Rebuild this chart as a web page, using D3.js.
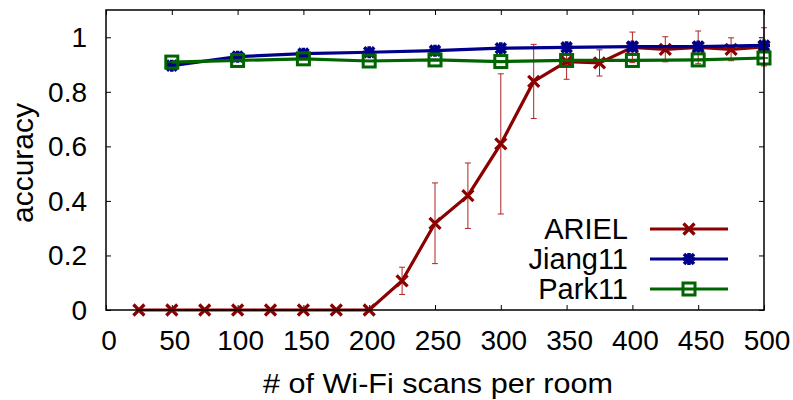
<!DOCTYPE html>
<html>
<head>
<meta charset="utf-8">
<script src="https://cdn.jsdelivr.net/npm/d3@7"></script>
<style>
  html, body { margin: 0; padding: 0; background: #fff; }
  svg text { font-family: "Liberation Sans", Arial, Helvetica, sans-serif; fill: #000; }
</style>
</head>
<body>
<svg id="chart" width="793" height="400"></svg>
<script>
// Accuracy vs. number of Wi-Fi scans per room
const arielX   = [25, 50, 75, 100, 125, 150, 175, 200, 225, 250, 275, 300, 325, 350, 375, 400, 425, 450, 475, 500];
const arielY   = [0, 0, 0, 0, 0, 0, 0, 0, 0.107, 0.318, 0.419, 0.609, 0.838, 0.911, 0.906, 0.963, 0.956, 0.963, 0.956, 0.965];
const arielErr = [0, 0, 0, 0, 0, 0, 0, 0, 0.05, 0.148, 0.12, 0.257, 0.136, 0.065, 0.048, 0.056, 0.046, 0.06, 0.042, 0.07];

const baseX    = [50, 100, 150, 200, 250, 300, 350, 400, 450, 500];
const jiangY   = [0.896, 0.929, 0.94, 0.945, 0.951, 0.96, 0.963, 0.966, 0.966, 0.97];
const parkY    = [0.909, 0.915, 0.921, 0.913, 0.917, 0.911, 0.915, 0.915, 0.917, 0.924];

const xTicks = [0, 50, 100, 150, 200, 250, 300, 350, 400, 450, 500];
const yTicks = [0, 0.2, 0.4, 0.6, 0.8, 1];
const yTickLabels = ["0", "0.2", "0.4", "0.6", "0.8", "1"];

const seriesNames = ["ARIEL", "Jiang11", "Park11"];
const colors = { ARIEL: "#8b0000", Jiang11: "#00008b", Park11: "#006400" };

const svg = d3.select("#chart");
const m = { left: 106, right: 29, top: 10, bottom: 90 };
const W = 793, H = 400;
const x = d3.scaleLinear().domain([0, 500]).range([m.left, W - m.right]);
const y = d3.scaleLinear().domain([0, 1.1]).range([H - m.bottom, m.top]);

const tickFont = 28;
const legendFont = 29;

// inward ticks on all four sides
const tickLen = 5;
const axes = svg.append("g");
axes.append("g").attr("transform", `translate(0,${y(0)})`)
  .call(d3.axisBottom(x).tickValues(xTicks).tickSizeInner(-tickLen).tickSizeOuter(0).tickFormat(""));
axes.append("g").attr("transform", `translate(0,${y(1.1)})`)
  .call(d3.axisTop(x).tickValues(xTicks).tickSizeInner(-tickLen).tickSizeOuter(0).tickFormat(""));
axes.append("g").attr("transform", `translate(${x(0)},0)`)
  .call(d3.axisLeft(y).tickValues(yTicks).tickSizeInner(-tickLen).tickSizeOuter(0).tickFormat(""));
axes.append("g").attr("transform", `translate(${x(500)},0)`)
  .call(d3.axisRight(y).tickValues(yTicks).tickSizeInner(-tickLen).tickSizeOuter(0).tickFormat(""));
axes.selectAll(".domain").remove();
axes.selectAll(".tick line").attr("stroke", "#000").attr("stroke-width", 1);

// tick labels
svg.append("g").selectAll("text").data(xTicks).join("text")
  .attr("x", d => x(d) + 3)
  .attr("y", 350)
  .attr("text-anchor", "middle")
  .attr("font-size", tickFont)
  .text(d => d);
svg.append("g").selectAll("text").data(yTicks).join("text")
  .attr("x", 87)
  .attr("y", d => y(d) + 10)
  .attr("text-anchor", "end")
  .attr("font-size", tickFont)
  .text((d, i) => yTickLabels[i]);

// axis titles
svg.append("text")
  .attr("x", 263).attr("y", 393)
  .attr("font-size", tickFont)
  .attr("textLength", 350)
  .attr("lengthAdjust", "spacingAndGlyphs")
  .text("# of Wi-Fi scans per room");
svg.append("text")
  .attr("transform", `translate(33,223) rotate(-90)`)
  .attr("font-size", 30)
  .attr("textLength", 120)
  .attr("lengthAdjust", "spacingAndGlyphs")
  .text("accuracy");

const plot = svg.append("g");
const line = d3.line().x(d => x(d[0])).y(d => y(d[1]));

// marker shapes
function drawCross(g, cx, cy, color, r) {
  g.append("path")
    .attr("d", `M${cx - r},${cy - r}L${cx + r},${cy + r}M${cx - r},${cy + r}L${cx + r},${cy - r}`)
    .attr("stroke", color).attr("stroke-width", 3.2).attr("fill", "none");
}
function drawStar(g, cx, cy, color, r) {
  g.append("path")
    .attr("d", `M${cx - r},${cy - r}L${cx + r},${cy + r}M${cx - r},${cy + r}L${cx + r},${cy - r}` +
               `M${cx},${cy - r - 1}L${cx},${cy + r + 1}M${cx - r - 1},${cy}L${cx + r + 1},${cy}`)
    .attr("stroke", color).attr("stroke-width", 3.6).attr("fill", "none");
}
function drawSquare(g, cx, cy, color, r) {
  g.append("rect")
    .attr("x", cx - r).attr("y", cy - r).attr("width", 2 * r).attr("height", 2 * r)
    .attr("stroke", color).attr("stroke-width", 3).attr("fill", "none");
  g.append("line")
    .attr("x1", cx - r + 2).attr("x2", cx + r - 2).attr("y1", cy).attr("y2", cy)
    .attr("stroke", color).attr("stroke-width", 1.5);
}

// ARIEL with error bars
const arielData = arielX.map((v, i) => [v, arielY[i], arielErr[i]]);
const eb = plot.append("g").attr("stroke", "#b22222").attr("stroke-width", 1);
arielData.filter(d => d[2] > 0).forEach(d => {
  const cx = x(d[0]), y1 = y(d[1] - d[2]), y2 = y(d[1] + d[2]);
  eb.append("line").attr("x1", cx).attr("x2", cx).attr("y1", y1).attr("y2", y2);
  eb.append("line").attr("x1", cx - 3).attr("x2", cx + 3).attr("y1", y1).attr("y2", y1);
  eb.append("line").attr("x1", cx - 3).attr("x2", cx + 3).attr("y1", y2).attr("y2", y2);
});
plot.append("path").datum(arielData).attr("d", line)
  .attr("fill", "none").attr("stroke", colors.ARIEL).attr("stroke-width", 3.2);
const am = plot.append("g");
arielData.forEach(d => drawCross(am, x(d[0]), y(d[1]), colors.ARIEL, 5.5));

// Jiang11
const jiangData = baseX.map((v, i) => [v, jiangY[i]]);
plot.append("path").datum(jiangData).attr("d", line)
  .attr("fill", "none").attr("stroke", colors.Jiang11).attr("stroke-width", 3.2);
const jm = plot.append("g");
jiangData.forEach(d => drawStar(jm, x(d[0]), y(d[1]), colors.Jiang11, 5));

// Park11
const parkData = baseX.map((v, i) => [v, parkY[i]]);
plot.append("path").datum(parkData).attr("d", line)
  .attr("fill", "none").attr("stroke", colors.Park11).attr("stroke-width", 3.2);
const pm = plot.append("g");
parkData.forEach(d => drawSquare(pm, x(d[0]), y(d[1]), colors.Park11, 6));

// legend
const legend = svg.append("g");
const markerFns = { ARIEL: drawCross, Jiang11: drawStar, Park11: drawSquare };
const markerR = { ARIEL: 5.5, Jiang11: 5, Park11: 6 };
seriesNames.forEach((name, i) => {
  const ly = 229 + i * 30;
  legend.append("text").attr("x", 628).attr("y", ly + 10)
    .attr("text-anchor", "end").attr("font-size", legendFont).text(name);
  legend.append("line").attr("x1", 650).attr("x2", 728).attr("y1", ly).attr("y2", ly)
    .attr("stroke", colors[name]).attr("stroke-width", 3.2);
  markerFns[name](legend, 689, ly, colors[name], markerR[name]);
});

// frame
svg.append("rect")
  .attr("x", x(0)).attr("y", y(1.1))
  .attr("width", x(500) - x(0)).attr("height", y(0) - y(1.1))
  .attr("fill", "none").attr("stroke", "#000").attr("stroke-width", 1.5);
</script>
</body>
</html>
